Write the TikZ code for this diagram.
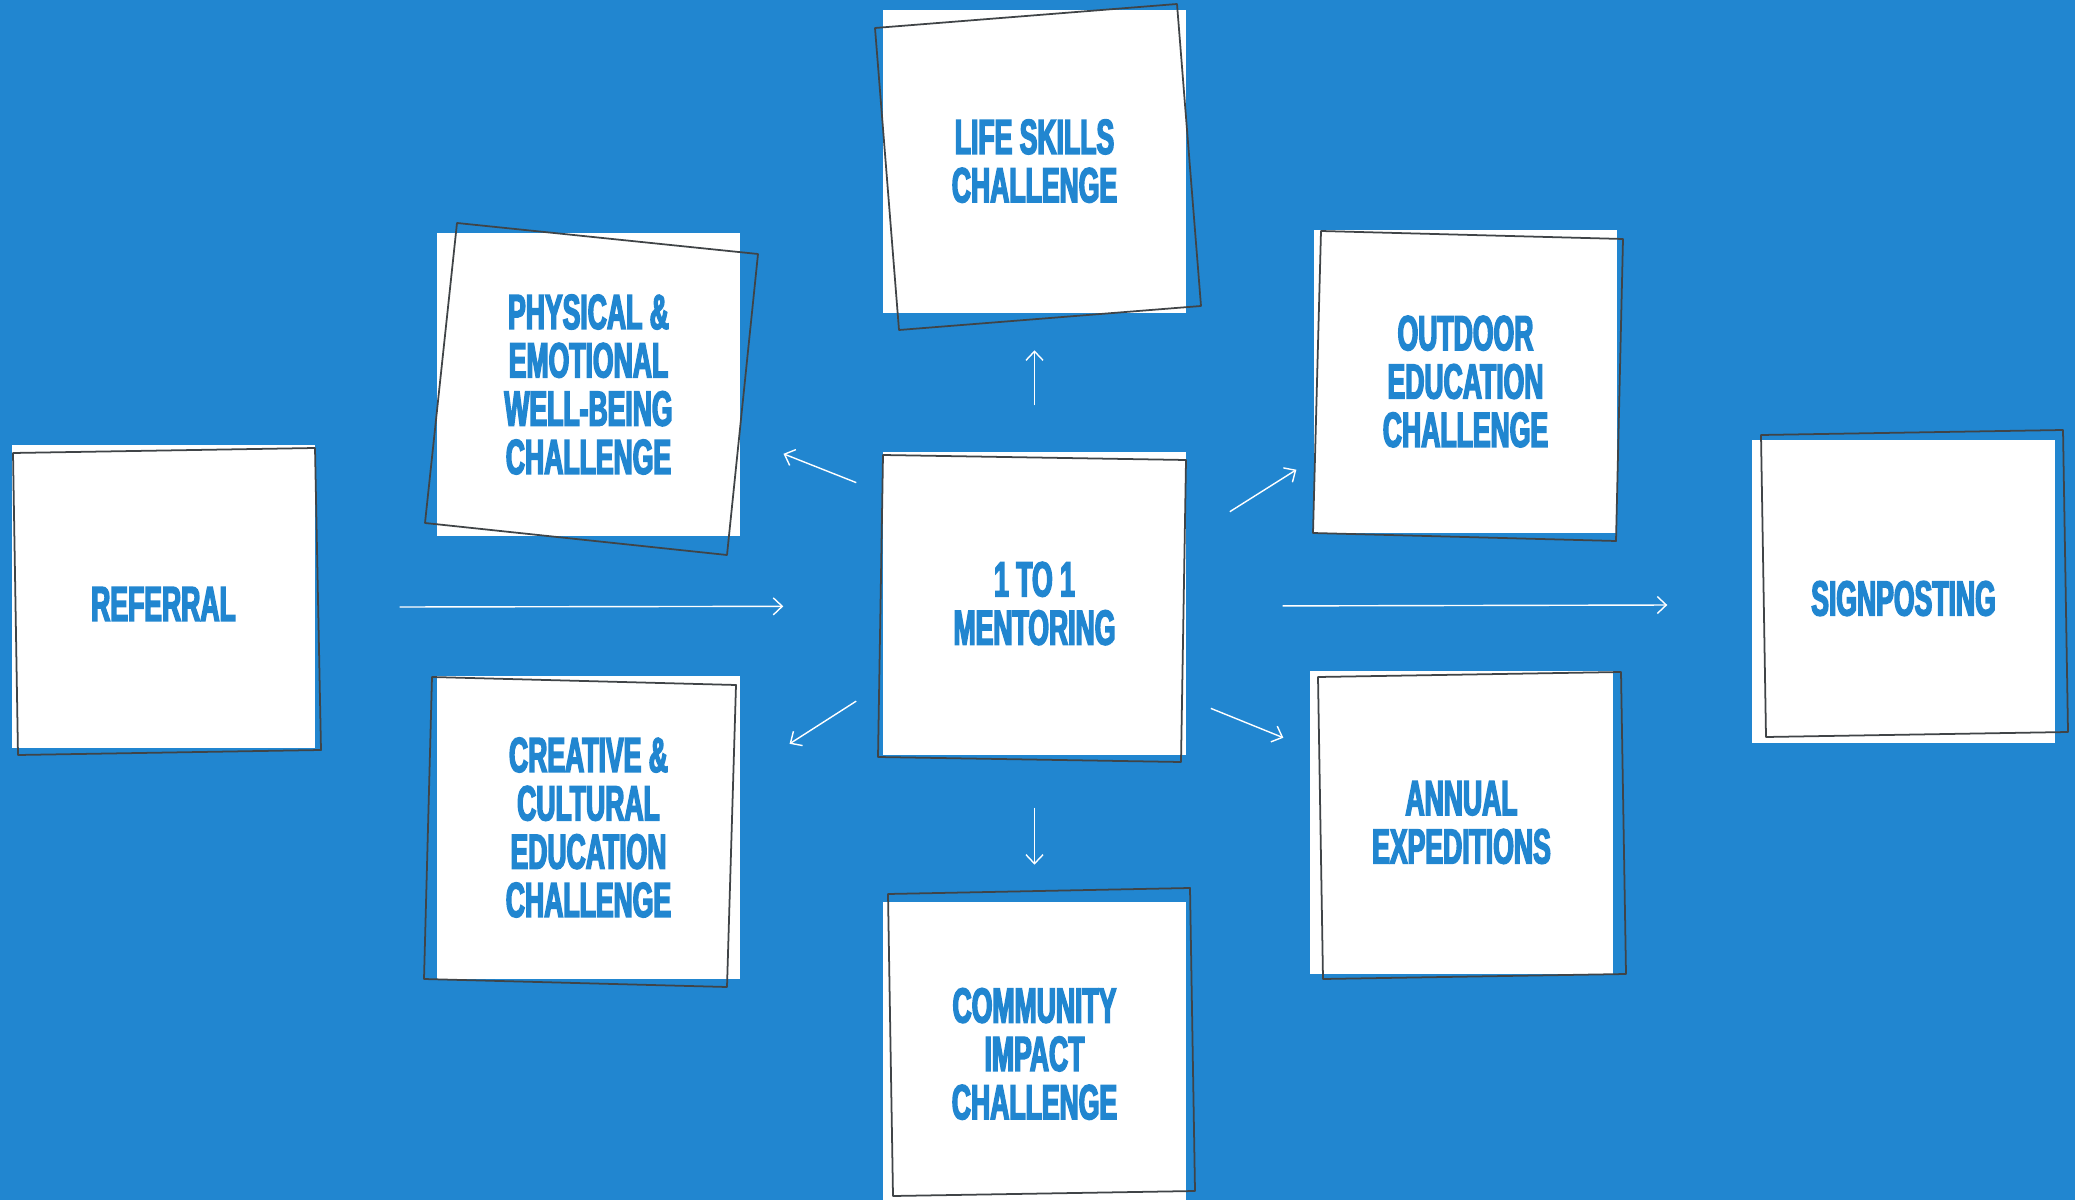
\documentclass[tikz,border=0pt]{standalone}
\usepackage{fontspec}
\newfontfamily\boxfont{Liberation Sans}[FakeStretch=0.54,BoldFeatures={FakeBold=3}]
\usetikzlibrary{positioning,arrows.meta}
\definecolor{brandblue}{HTML}{2186D0}
\definecolor{framegray}{HTML}{404447}

\begin{document}
\begin{tikzpicture}[
        every node/.style={align=center},
        card/.style={rectangle, fill=white, minimum size=3.03cm, inner sep=0pt, text=brandblue,
            font=\boxfont\bfseries\fontsize{14}{13.75}\selectfont},
        outline/.style={draw=framegray, line width=0.5pt, line join=round},
        arrow/.style={-{Straight Barb[length=0.9mm,width=1.7mm]}, draw=white, line width=0.4pt}
    ]
    % Background
    \useasboundingbox (0,0) rectangle (20.75,12);
    \fill[brandblue] (0,0) rectangle (20.75,12);
    % Nodes
    \node[card] (mentor) at (10.345,5.965) {1 TO 1\\MENTORING};
    \node[card, above=1.38cm of mentor] (life) {LIFE SKILLS\\CHALLENGE};
    \node[card, below=1.46cm of mentor] (comm) {COMMUNITY\\IMPACT\\CHALLENGE};
    \node[card] (ref) at (1.635,6.035) {\raisebox{-0.075cm}[\height][\depth]{REFERRAL}};
    \node[card] (phys) at (5.885,8.155) {PHYSICAL \&\\EMOTIONAL\\WELL-BEING\\CHALLENGE};
    \node[card] (creat) at (5.885,3.725) {CREATIVE \&\\CULTURAL\\EDUCATION\\CHALLENGE};
    \node[card] (outdoor) at (14.655,8.185) {OUTDOOR\\EDUCATION\\CHALLENGE};
    \node[card] (annual) at (14.615,3.775) {ANNUAL\\EXPEDITIONS};
    \node[card] (sign) at (19.035,6.085) {\raisebox{-0.07cm}[\height][\depth]{SIGNPOSTING}};
    % Tilted frames
    \draw[outline] (0.13,7.47) -- (3.15,7.52) -- (3.21,4.50) -- (0.18,4.45) -- cycle;
    \draw[outline] (4.57,9.77) -- (7.58,9.46) -- (7.27,6.45) -- (4.25,6.77) -- cycle;
    \draw[outline] (4.32,5.23) -- (7.36,5.15) -- (7.27,2.13) -- (4.24,2.21) -- cycle;
    \draw[outline] (8.83,7.45) -- (11.86,7.40) -- (11.81,4.38) -- (8.78,4.43) -- cycle;
    \draw[outline] (8.75,11.72) -- (11.77,11.96) -- (12.01,8.94) -- (8.99,8.70) -- cycle;
    \draw[outline] (8.88,3.06) -- (11.90,3.12) -- (11.95,0.09) -- (8.93,0.04) -- cycle;
    \draw[outline] (13.21,9.69) -- (16.23,9.61) -- (16.16,6.59) -- (13.13,6.67) -- cycle;
    \draw[outline] (13.18,5.23) -- (16.21,5.28) -- (16.26,2.26) -- (13.23,2.21) -- cycle;
    \draw[outline] (17.61,7.65) -- (20.63,7.70) -- (20.68,4.68) -- (17.66,4.63) -- cycle;
    % Arrows
    \draw[arrow, shorten <=0.84cm, shorten >=0.99cm] (ref.-4) -- (mentor.181);
    \draw[arrow, shorten <=0.96cm, shorten >=0.84cm] (mentor.-1.3) -- (sign.185.8);
    \draw[arrow, shorten <=0.46cm, shorten >=0.37cm] (mentor.north) -- (life.south);
    \draw[arrow, shorten <=0.52cm, shorten >=0.37cm] (mentor.south) -- (comm.north);
    \draw[arrow, shorten <=0.28cm, shorten >=0.46cm] (mentor.144.5) -- (phys.-19.3);
    \draw[arrow, shorten <=0.31cm, shorten >=0.58cm] (mentor.208.5) -- (creat.19.35);
    \draw[arrow, shorten <=0.51cm, shorten >=0.20cm] (mentor.23.2) -- (outdoor.207.2);
    \draw[arrow, shorten <=0.26cm, shorten >=0.28cm] (mentor.-32.3) -- (annual.154.3);
\end{tikzpicture}
\end{document}
